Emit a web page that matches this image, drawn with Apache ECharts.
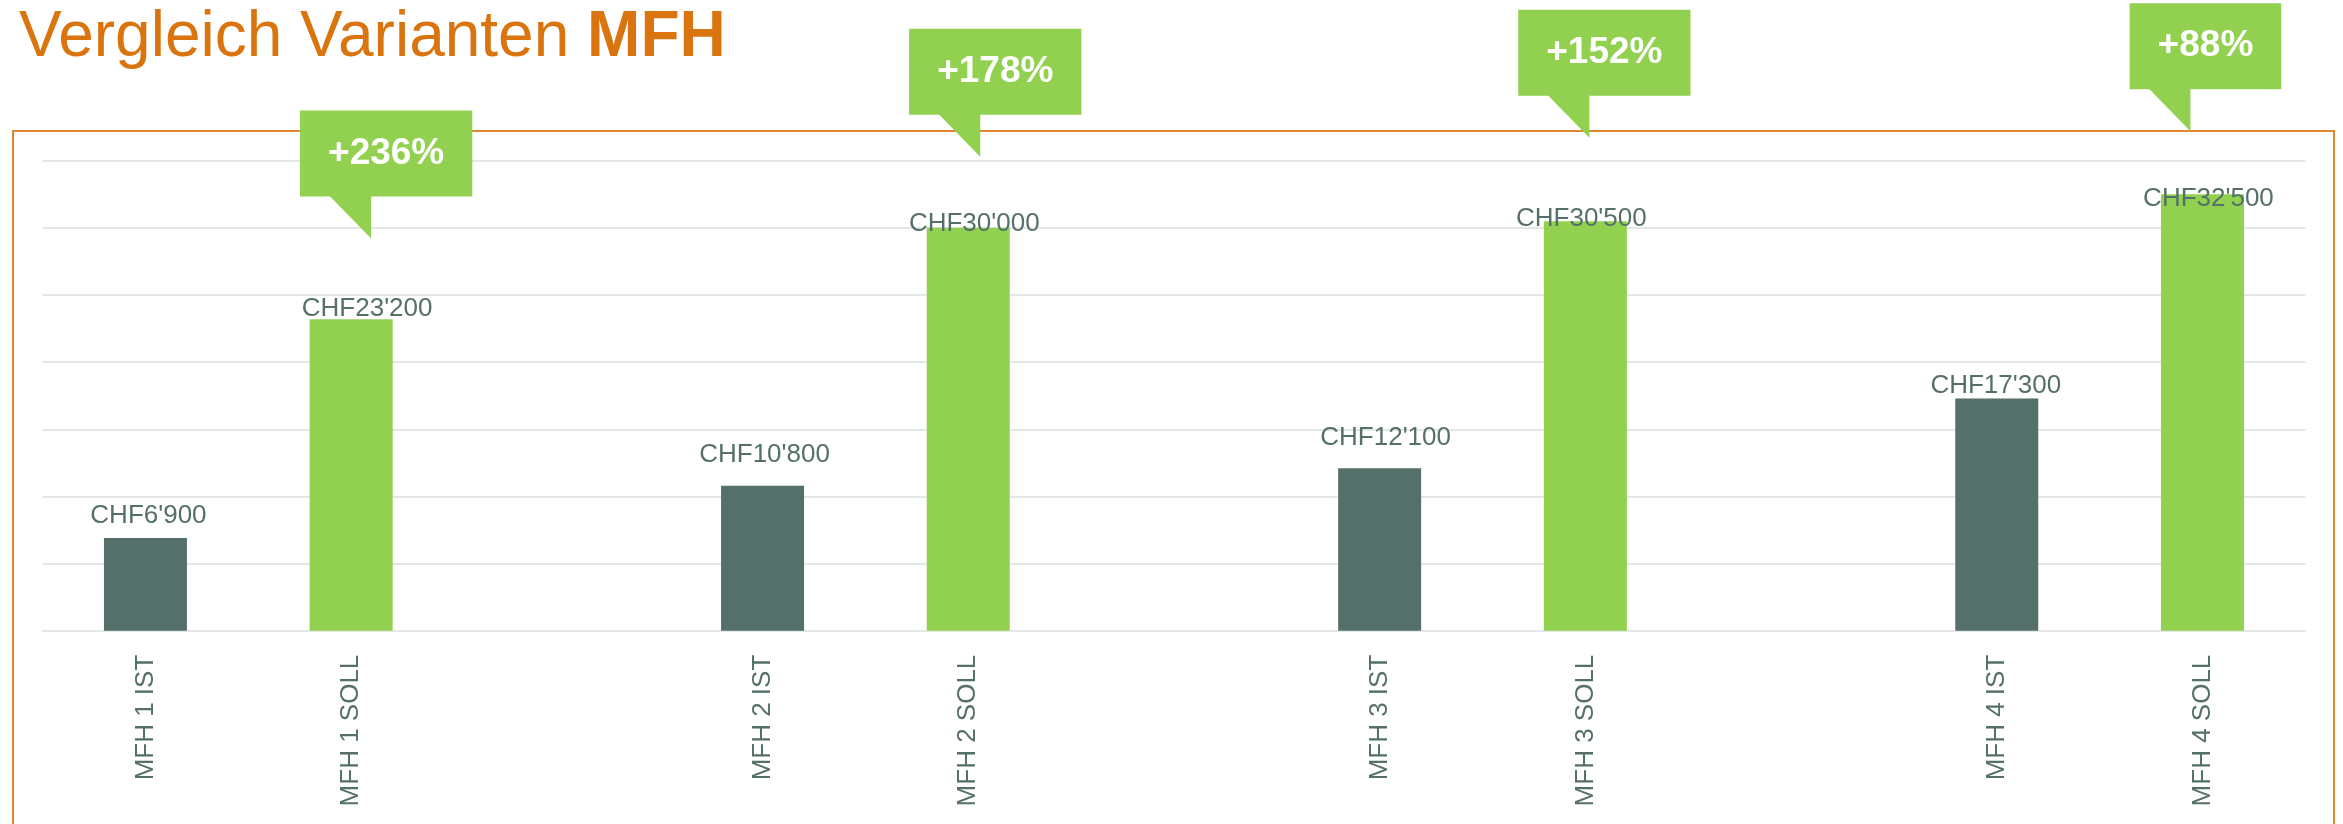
<!DOCTYPE html>
<html>
<head>
<meta charset="utf-8">
<title>Vergleich Varianten MFH</title>
<script src="https://cdn.jsdelivr.net/npm/echarts@6/dist/echarts.min.js"></script>
<style>
  html, body { margin: 0; padding: 0; background: #fff; }
  #chart { width: 2343px; height: 824px; }
</style>
</head>
<body>
<div id="chart"></div>
<script>
// data
let groups = ['MFH 1', 'MFH 2', 'MFH 3', 'MFH 4'];
let istValues = [6900, 10800, 12100, 17300];
let sollValues = [23200, 30000, 30500, 32500];
let increaseTexts = ['+236%', '+178%', '+152%', '+88%'];
// where the callout tails point (y value on the axis)
let calloutTipValues = [29200, 35300, 36700, 37200];

let yTicks = [0, 5000, 10000, 15000, 20000, 25000, 30000, 35000];

const GREEN = '#92D050';
const GREY = '#55706A';
const ORANGE = '#D9740F';
const FONT = '"Liberation Sans", Arial, sans-serif';

// small nudges of value labels / callouts, in px (label dx, dy) - layout only
let labelNudge = [[3, -9], [16, 3], [2, -18], [6, 9], [6, -17], [-4, 11], [-1, 0], [6, 18]];
let calloutShift = [20, 12, 4, -12];

function formatCHF(v)
{
    let s = String(v);
    if (s.length > 3)
    {
        s = s.slice(0, s.length - 3) + "'" + s.slice(s.length - 3);
    }
    return 'CHF' + s;
}

// build the category slots: IST, SOLL, blank, IST, SOLL, blank ...
let categories = [];
let barData = [];
let k = 0;
groups.forEach((g, i) => {
    categories.push(g + ' IST');
    barData.push({
        value: istValues[i],
        itemStyle: { color: GREY },
        label: { offset: labelNudge[k++] }
    });
    categories.push(g + ' SOLL');
    barData.push({
        value: sollValues[i],
        itemStyle: { color: GREEN },
        label: { offset: labelNudge[k++] }
    });
    if (i < groups.length - 1)
    {
        categories.push('');
        barData.push('-');
    }
});

let myChart = echarts.init(document.getElementById('chart'));

let frame = {
    id: 'frame',
    type: 'rect',
    shape: { x: 13, y: 131, width: 2321, height: 760 },
    style: { fill: null, stroke: '#E38631', lineWidth: 2 },
    z: 1
};

let option = {
    animation: false,
    backgroundColor: '#fff',
    title: {
        text: '{n|Vergleich Varianten }{b|MFH}',
        left: 14,
        top: -2,
        textStyle: {
            fontWeight: 'normal',
            rich: {
                n: { fontSize: 64, color: ORANGE, fontFamily: FONT, fontWeight: 'normal', lineHeight: 70 },
                b: { fontSize: 64, color: ORANGE, fontFamily: FONT, fontWeight: 'bold', lineHeight: 70 }
            }
        }
    },
    grid: {
        left: 42.6,
        right: 37.7,
        top: 160.7,
        bottom: 193.3,
        containLabel: false
    },
    xAxis: {
        type: 'category',
        data: categories,
        axisLine: { lineStyle: { color: '#E3E8E7', width: 2 } },
        axisTick: { show: false },
        axisLabel: {
            rotate: 90,
            interval: 0,
            margin: 24,
            color: GREY,
            fontSize: 26,
            fontFamily: FONT
        }
    },
    yAxis: {
        type: 'value',
        min: yTicks[0],
        max: yTicks[yTicks.length - 1],
        interval: yTicks[1] - yTicks[0],
        axisLabel: { show: false },
        axisLine: { show: false },
        axisTick: { show: false },
        splitLine: { lineStyle: { color: '#E3E8E7', width: 2 } }
    },
    series: [{
        type: 'bar',
        data: barData,
        barWidth: 83,
        label: {
            show: true,
            position: 'top',
            distance: 0,
            color: GREY,
            fontSize: 26,
            fontFamily: FONT,
            formatter: p => formatCHF(p.value)
        },
        z: 3
    }],
    graphic: { elements: [frame] }
};

myChart.setOption(option);

// callouts: green box with a tail pointing at the SOLL bar
function drawCallouts(chart)
{
    let elements = [frame];
    increaseTexts.forEach((txt, i) => {
        let p = chart.convertToPixel({ gridIndex: 0 }, [groups[i] + ' SOLL', calloutTipValues[i]]);
        let x = p[0] + calloutShift[i];
        let y = p[1];
        elements.push({
            id: 'tail' + i,
            type: 'polygon',
            shape: { points: [[x - 42, y - 43], [x, y - 43], [x, y]] },
            style: { fill: GREEN },
            z: 20
        });
        elements.push({
            id: 'box' + i,
            type: 'text',
            x: x + 15,
            y: y - 42,
            style: {
                text: txt,
                fill: '#fff',
                fontSize: 37,
                fontWeight: 'bold',
                fontFamily: FONT,
                align: 'center',
                verticalAlign: 'bottom',
                lineHeight: 44,
                backgroundColor: GREEN,
                padding: [21, 28, 21, 28]
            },
            z: 21
        });
    });
    chart.setOption({ graphic: { elements: elements } });
}

drawCallouts(myChart);
</script>
</body>
</html>
